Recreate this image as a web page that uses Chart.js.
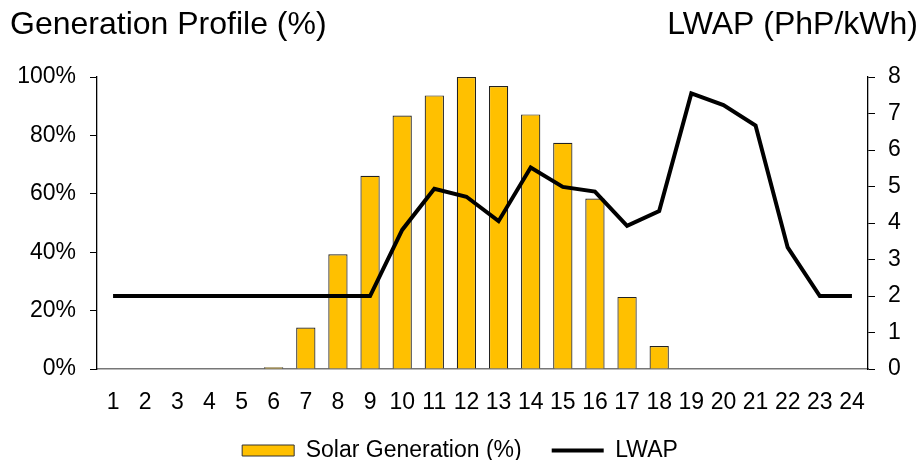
<!DOCTYPE html>
<html lang="en">
<head>
  <meta charset="UTF-8">
  <title>Generation Profile vs LWAP</title>
  <script src="https://cdn.jsdelivr.net/npm/chart.js"></script>
  <style>
    html,body{margin:0;padding:0;background:#fff;}
    #wrap{width:920px;height:460px;}
  </style>
</head>
<body>
  <div id="wrap"><canvas id="genChart" width="920" height="460"></canvas></div>

  <script>
    // data
    const hours = ['1','2','3','4','5','6','7','8','9','10','11','12','13','14','15','16','17','18','19','20','21','22','23','24'];
    const solarPct = [0,0,0,0,0,0.6,14.2,39.3,66.2,86.8,93.7,100,96.9,87.2,77.5,58.4,24.7,7.9,0,0,0,0,0,0];
    const lwap = [2,2,2,2,2,2,2,2,2,3.81,4.94,4.72,4.05,5.52,4.99,4.86,3.92,4.33,7.55,7.23,6.67,3.33,2,2];

    const FONT = '"Liberation Sans", Arial, sans-serif';

    // the two titles above the axes
    const titles = {
      id: 'titles',
      afterDraw(c){
        const ctx = c.ctx;
        ctx.save();
        ctx.fillStyle = '#000';
        ctx.font = '32px ' + FONT;
        ctx.textBaseline = 'alphabetic';
        ctx.textAlign = 'left';
        ctx.fillText('Generation Profile (%)', 10, 34);
        ctx.textAlign = 'right';
        ctx.fillText('LWAP (PhP/kWh)', 918, 34);
        ctx.restore();
      }
    };

    new Chart(document.getElementById('genChart'), {
      data: {
        labels: hours,
        datasets: [
          {type:'line', label:'LWAP', data:lwap, yAxisID:'y1',
           borderColor:'#000', borderWidth:4, pointRadius:0, tension:0, order:0},
          {type:'bar', label:'Solar Generation (%)', data:solarPct, yAxisID:'y',
           backgroundColor:'#FFC000', borderColor:'#222', borderWidth:1.2,
           barPercentage:0.6, categoryPercentage:1, order:1}
        ]
      },
      options: {
        responsive:false, animation:false,
        layout:{padding:{top:77, left:0, right:0, bottom:-12}},
        plugins:{
          tooltip:{enabled:false},
          legend:{
            position:'bottom',
            labels:{
              font:{size:23, family:FONT}, color:'#000',
              usePointStyle:true, pointStyleWidth:52, boxHeight:11, padding:30,
              generateLabels:()=>[
                {text:'Solar Generation (%)', fillStyle:'#FFC000', strokeStyle:'#333',
                 lineWidth:1, pointStyle:'rect', datasetIndex:1},
                {text:'LWAP', fillStyle:'#000', strokeStyle:'#000',
                 lineWidth:4, pointStyle:'line', datasetIndex:0}
              ]
            }
          }
        },
        scales:{
          x:{
            grid:{display:false},
            border:{display:true, color:'#777', width:1.5},
            ticks:{font:{size:23, family:FONT}, color:'#000', padding:12, maxRotation:0, autoSkip:false},
            afterFit(s){ s.height = 40; }
          },
          y:{
            position:'left', min:0, max:100,
            grid:{drawOnChartArea:false, color:'#000', tickLength:7},
            border:{color:'#000', width:1.3},
            ticks:{stepSize:20, padding:14, font:{size:23, family:FONT}, color:'#000',
                   callback:v=>v+'%'},
            afterFit(s){ s.width = 97; }
          },
          y1:{
            position:'right', min:0, max:8,
            grid:{drawOnChartArea:false, color:'#000', tickLength:7},
            border:{color:'#000', width:1.3},
            ticks:{stepSize:1, padding:13, font:{size:23, family:FONT}, color:'#000'},
            afterFit(s){ s.width = 52; }
          }
        }
      },
      plugins:[titles]
    });
  </script>
</body>
</html>
